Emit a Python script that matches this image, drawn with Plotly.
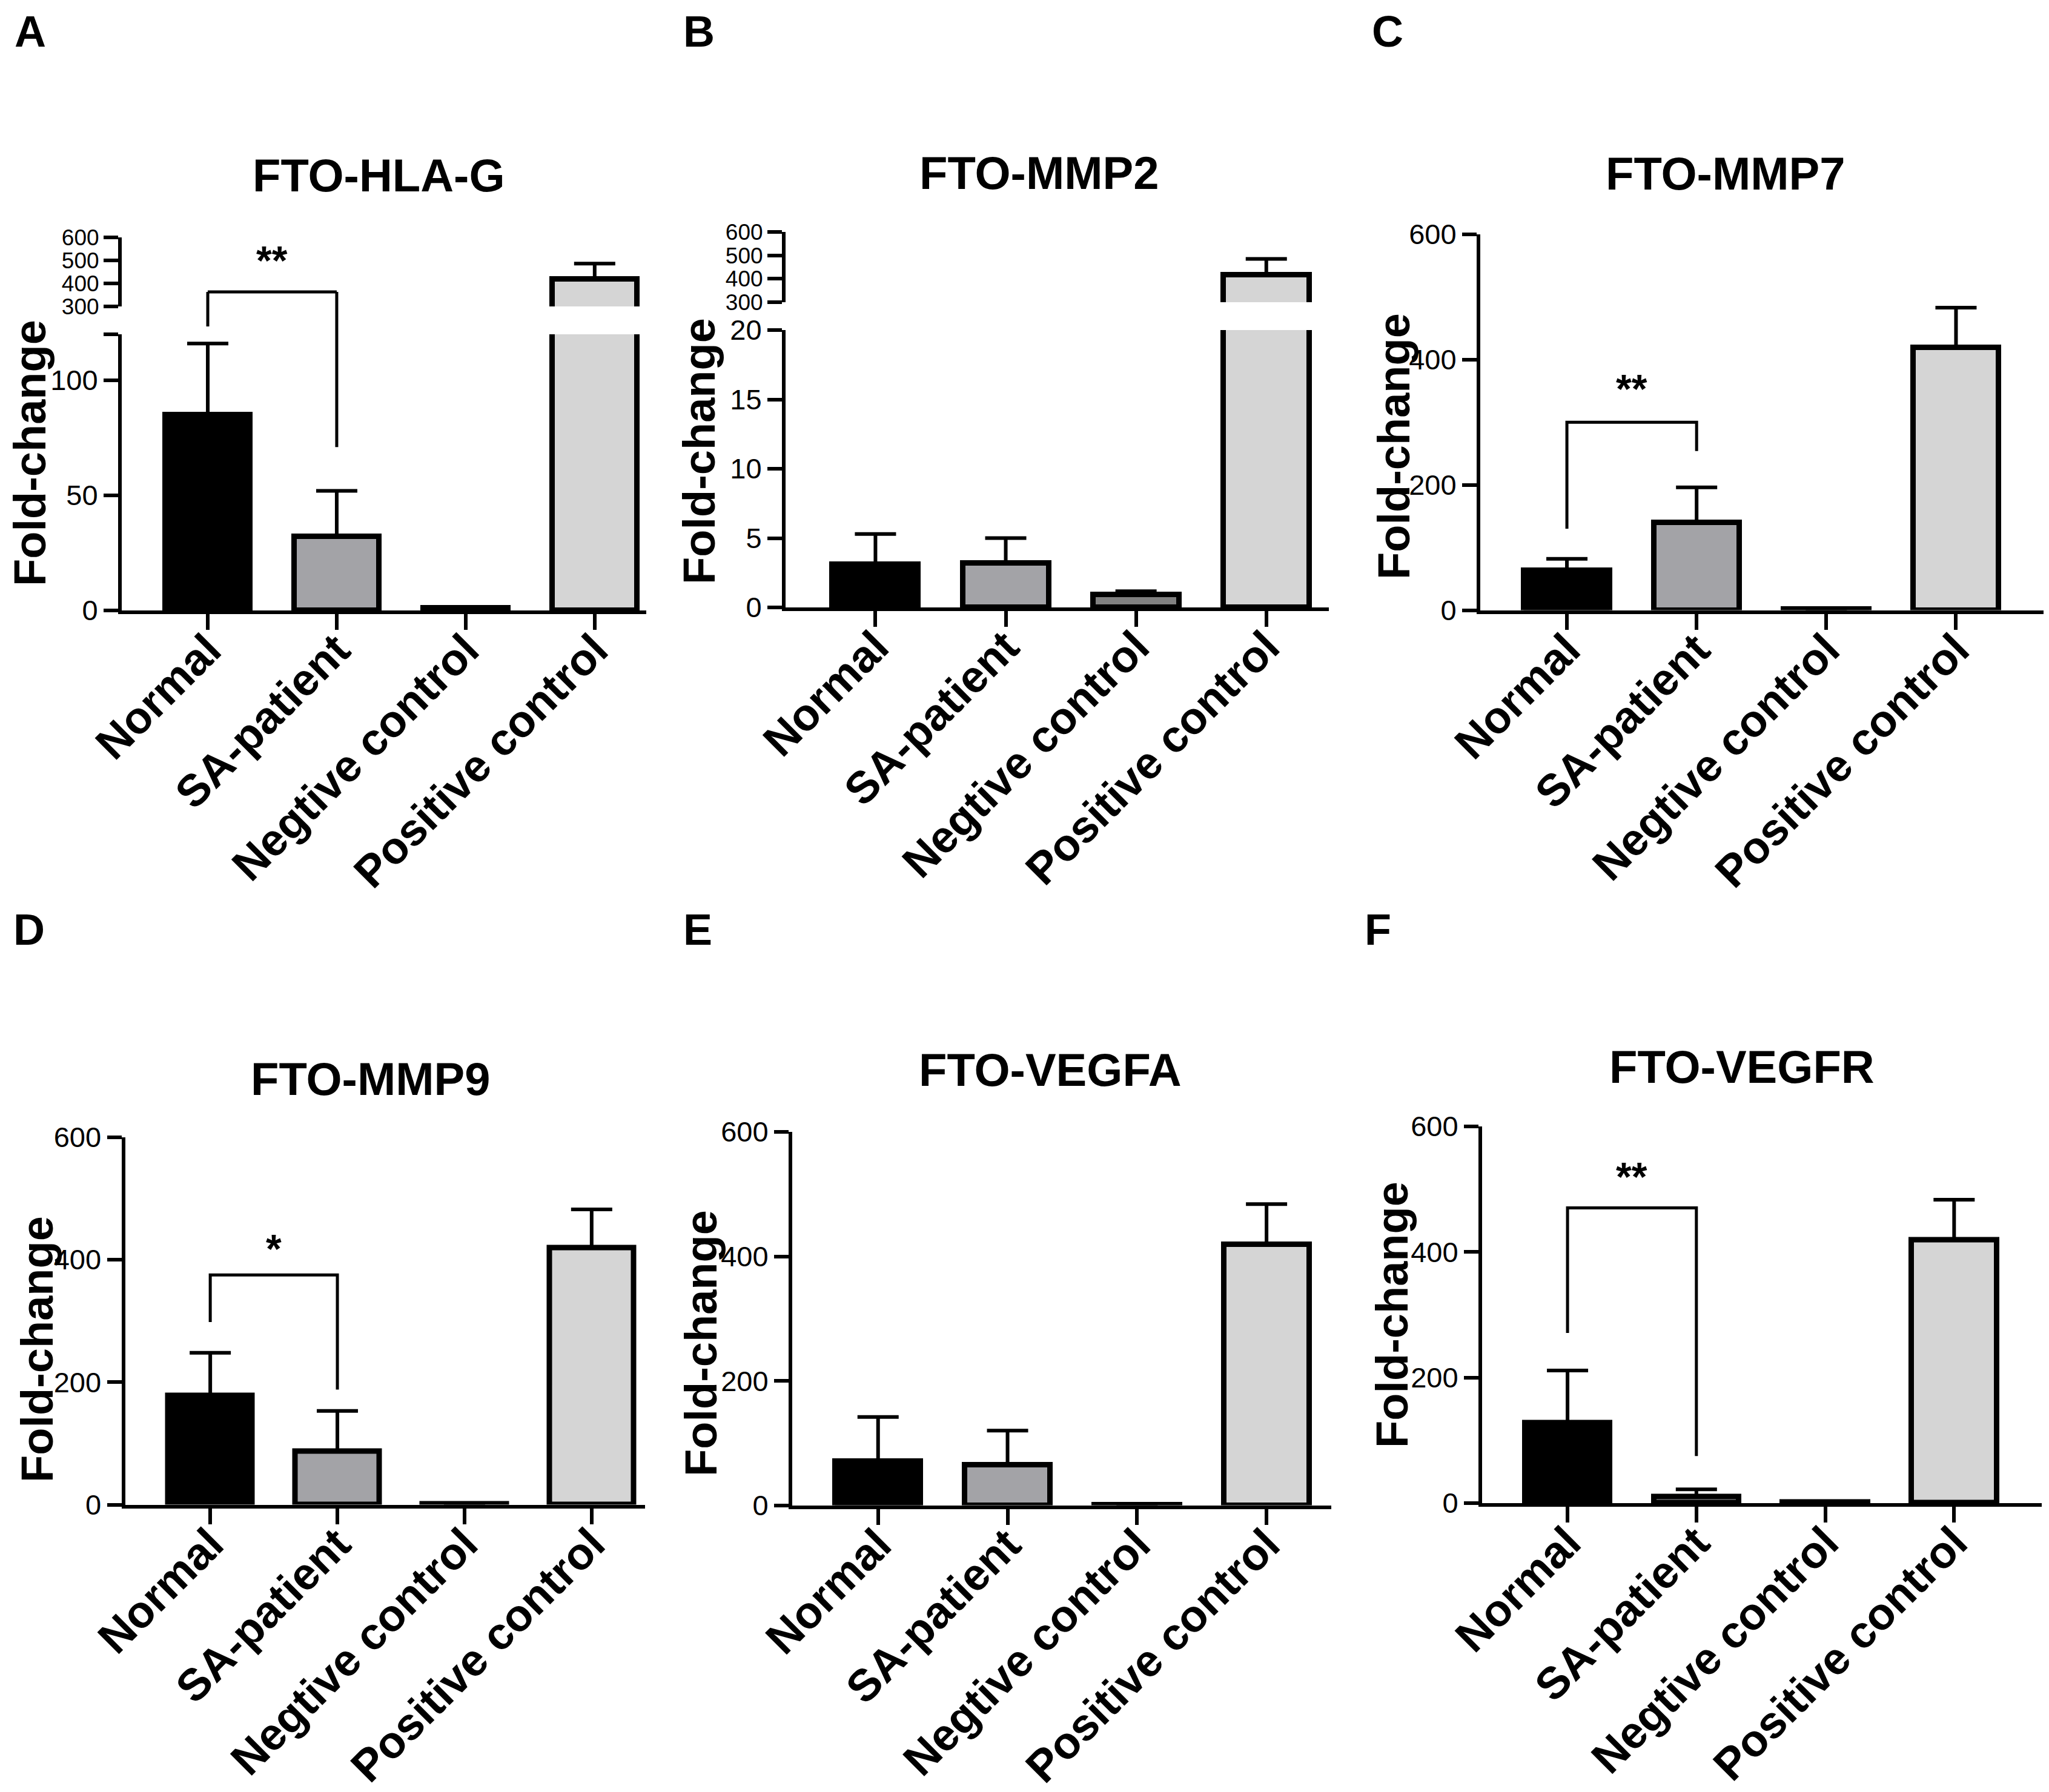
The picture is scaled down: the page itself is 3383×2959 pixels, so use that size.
import plotly.graph_objects as go

W, H = 3383, 2959
FONT = "Liberation Sans"

categories = ["Normal", "SA-patient", "Negtive control", "Positive control"]
bar_colors = ["#000000", "#a3a3a7", "#808080", "#d5d5d5"]

# mean fold-change and upper error bar
hla_g_mean = [85, 32, 1, 418]
hla_g_err = [31, 20, 0, 68]
mmp2_mean = [3.1, 3.2, 0.93, 416]
mmp2_err = [2.2, 1.8, 0.24, 69]
mmp7_mean = [63, 140, 1, 419]
mmp7_err = [19, 56, 0, 64]
mmp9_mean = [178, 87, 1, 419]
mmp9_err = [70, 66, 0, 63]
vegfa_mean = [71, 65, 1, 419]
vegfa_err = [71, 55, 0, 65]
vegfr_mean = [128, 10.5, 1, 419]
vegfr_err = [83, 11.5, 0, 64]

# significance brackets: left leg end, top, right leg end, label, label height
# (HLA-G: left end and top on the upper scale, right end on the lower scale)
hla_g_sig = [213, 363, 71, "**", 499]
mmp7_sig = [130, 300, 254, "**", 353]
mmp9_sig = [298, 375, 188, "*", 418]
vegfr_sig = [271, 470, 75, "**", 520]

# panel geometry in image pixels (x from left, y from top)
panels = [
    dict(letter="A", title="FTO-HLA-G", mean=hla_g_mean, err=hla_g_err, sig=hla_g_sig,
         x_px=(193, 1059), xr=(-0.667, 3.4),
         low_px=(1000, 544), low_range=(0, 120),
         low_ticks=[0, 50, 100, 120], low_text=["0", "50", "100", ""],
         up_px=(498, 384), up_range=(300, 600),
         title_px=(617, 281), ytitle_px=(42, 740), letter_px=(42, 2)),
    dict(letter="B", title="FTO-MMP2", mean=mmp2_mean, err=mmp2_err, sig=None,
         x_px=(1289, 2186), xr=(-0.69, 3.48),
         low_px=(995, 537), low_range=(0, 20),
         low_ticks=[0, 5, 10, 15, 20], low_text=["0", "5", "10", "15", "20"],
         up_px=(491, 375), up_range=(300, 600),
         title_px=(1707, 277), ytitle_px=(1146, 737), letter_px=(1146, 2)),
    dict(letter="C", title="FTO-MMP7", mean=mmp7_mean, err=mmp7_err, sig=mmp7_sig,
         x_px=(2436, 3366), xr=(-0.668, 3.675),
         low_px=(999.5, 379), low_range=(0, 600),
         low_ticks=[0, 200, 400, 600], low_text=["0", "200", "400", "600"],
         up_px=None, up_range=None,
         title_px=(2840, 279), ytitle_px=(2293, 729), letter_px=(2283, 2)),
    dict(letter="D", title="FTO-MMP9", mean=mmp9_mean, err=mmp9_err, sig=mmp9_sig,
         x_px=(198.5, 1057), xr=(-0.67, 3.42),
         low_px=(2476.6, 1869.5), low_range=(0, 600),
         low_ticks=[0, 200, 400, 600], low_text=["0", "200", "400", "600"],
         up_px=None, up_range=None,
         title_px=(603, 1774), ytitle_px=(53, 2220), letter_px=(40, 1485)),
    dict(letter="E", title="FTO-VEGFA", mean=vegfa_mean, err=vegfa_err, sig=None,
         x_px=(1300, 2190), xr=(-0.663, 3.5),
         low_px=(2477.6, 1861), low_range=(0, 600),
         low_ticks=[0, 200, 400, 600], low_text=["0", "200", "400", "600"],
         up_px=None, up_range=None,
         title_px=(1726, 1758), ytitle_px=(1149, 2210), letter_px=(1144, 1485)),
    dict(letter="F", title="FTO-VEGFR", mean=vegfr_mean, err=vegfr_err, sig=vegfr_sig,
         x_px=(2439, 3363), xr=(-0.663, 3.68),
         low_px=(2474, 1851.6), low_range=(0, 600),
         low_ticks=[0, 200, 400, 600], low_text=["0", "200", "400", "600"],
         up_px=None, up_range=None,
         title_px=(2868, 1753), ytitle_px=(2290, 2163), letter_px=(2267, 1485)),
]


def px_x(p):
    return p / W


def px_y(p):
    return 1 - p / H


def seg_paper(v, dom, rng):
    return dom[0] + (v - rng[0]) / (rng[1] - rng[0]) * (dom[1] - dom[0])


positions = list(range(len(categories)))

fig = go.Figure()
layout = {}
annotations = []
shapes = []
line_style = dict(color="black", width=5)
star_font = dict(family=FONT, size=66, color="black", weight="bold")

ycount = 0
for i, p in enumerate(panels):
    xn = "" if i == 0 else str(i + 1)
    xid = "x" + xn

    ycount += 1
    yn_low = "" if ycount == 1 else str(ycount)
    yid_low = "y" + yn_low
    low_dom = [px_y(p["low_px"][0]), px_y(p["low_px"][1])]

    axis_common = dict(showline=True, linecolor="black", linewidth=6,
                       ticks="outside", tickwidth=6, tickcolor="black",
                       showgrid=False, zeroline=False, fixedrange=True,
                       automargin=False)

    layout["xaxis" + xn] = dict(
        domain=[px_x(p["x_px"][0]), px_x(p["x_px"][1])], range=list(p["xr"]),
        anchor=yid_low, ticklen=26, tickvals=positions, ticktext=categories,
        tickangle=-45, ticklabelstandoff=-40,
        tickfont=dict(family=FONT, size=74, color="black", weight="bold"),
        **axis_common)
    layout["yaxis" + yn_low] = dict(
        domain=low_dom, range=list(p["low_range"]), anchor=xid, ticklen=24,
        tickvals=p["low_ticks"], ticktext=p["low_text"],
        tickfont=dict(family=FONT, size=47, color="black"), **axis_common)

    axes_for_bars = [yid_low]
    up_dom = None
    if p["up_px"] is not None:
        ycount += 1
        yn_up = str(ycount)
        up_dom = [px_y(p["up_px"][0]), px_y(p["up_px"][1])]
        layout["yaxis" + yn_up] = dict(
            domain=up_dom, range=list(p["up_range"]), anchor=xid, ticklen=24,
            tickvals=[300, 400, 500, 600],
            tickfont=dict(family=FONT, size=37, color="black"), **axis_common)
        axes_for_bars.append("y" + yn_up)

    for yid in axes_for_bars:
        fig.add_trace(go.Bar(
            x=positions, y=p["mean"], width=0.66,
            marker=dict(color=bar_colors, line=dict(color="black", width=9)),
            error_y=dict(type="data", symmetric=False, array=p["err"],
                         arrayminus=[0] * len(positions), color="black",
                         thickness=6, width=34),
            xaxis=xid, yaxis=yid, showlegend=False, hoverinfo="skip"))

    sig = p["sig"]
    if sig is not None:
        left_end, top, right_end, label, label_y = sig
        if up_dom is not None:
            to_up = lambda v: seg_paper(v, up_dom, p["up_range"])
            to_low = lambda v: seg_paper(v, low_dom, p["low_range"])
            for x0, x1, y0, y1 in [(0, 0, to_up(left_end), to_up(top)),
                                   (0, 1, to_up(top), to_up(top)),
                                   (1, 1, to_up(top), to_low(right_end))]:
                shapes.append(dict(type="line", xref=xid, yref="paper",
                                   x0=x0, x1=x1, y0=y0, y1=y1, line=line_style))
            annotations.append(dict(x=0.5, y=to_up(label_y), xref=xid, yref="paper",
                                    text=label, showarrow=False,
                                    xanchor="center", yanchor="middle",
                                    font=star_font))
        else:
            fig.add_trace(go.Scatter(
                x=[0, 0, 1, 1], y=[left_end, top, top, right_end], mode="lines",
                line=line_style, xaxis=xid, yaxis=yid_low, showlegend=False,
                hoverinfo="skip"))
            annotations.append(dict(x=0.5, y=label_y, xref=xid, yref=yid_low,
                                    text=label, showarrow=False,
                                    xanchor="center", yanchor="middle",
                                    font=star_font))

    # panel title, y-axis title, panel letter
    annotations.append(dict(x=px_x(p["title_px"][0]), y=px_y(p["title_px"][1]),
                            xref="paper", yref="paper", text=p["title"],
                            showarrow=False, xanchor="center", yanchor="middle",
                            font=dict(family=FONT, size=76, color="black",
                                      weight="bold")))
    annotations.append(dict(x=px_x(p["ytitle_px"][0]), y=px_y(p["ytitle_px"][1]),
                            xref="paper", yref="paper", text="Fold-change",
                            textangle=-90, showarrow=False,
                            xanchor="center", yanchor="middle",
                            font=dict(family=FONT, size=74, color="black",
                                      weight="bold")))
    annotations.append(dict(x=px_x(p["letter_px"][0]), y=px_y(p["letter_px"][1]),
                            xref="paper", yref="paper", text=p["letter"],
                            showarrow=False, xanchor="center", yanchor="top",
                            font=dict(family=FONT, size=72, color="black",
                                      weight="bold")))

fig.update_layout(
    width=W, height=H,
    margin=dict(l=0, r=0, t=0, b=0, autoexpand=False),
    paper_bgcolor="white", plot_bgcolor="white",
    bargap=0, showlegend=False,
    annotations=annotations, shapes=shapes,
    **layout)

fig.write_html("out.html")
